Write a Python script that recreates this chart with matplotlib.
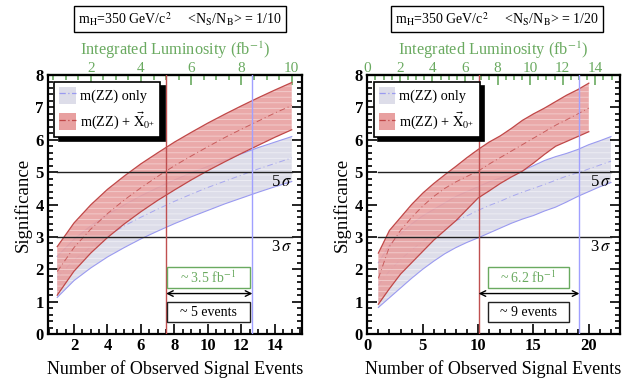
import numpy as np
import matplotlib
matplotlib.use("Agg")
import matplotlib.pyplot as plt
from matplotlib.patches import Patch, Rectangle
from matplotlib.lines import Line2D
from matplotlib.ticker import MultipleLocator

plt.rcParams['font.family'] = ['Liberation Serif', 'DejaVu Serif']
plt.rcParams['mathtext.fontset'] = 'stix'
plt.rcParams['hatch.linewidth'] = 0.6

# ---- <N_S/N_B> = 1/10 ----
n_a = [1, 2, 3, 4, 5, 6, 7, 8, 9, 10, 11, 12, 13, 14, 15]
zz_lo_a = [1.13, 1.65, 2.04, 2.38, 2.67, 2.94, 3.18, 3.41, 3.62, 3.82, 4.02, 4.20, 4.38, 4.55, 4.71]
zz_mid_a = [1.75, 2.28, 2.69, 3.03, 3.34, 3.61, 3.86, 4.10, 4.32, 4.53, 4.72, 4.91, 5.10, 5.27, 5.44]
zz_hi_a = [2.40, 2.93, 3.34, 3.69, 3.99, 4.27, 4.52, 4.76, 4.98, 5.18, 5.38, 5.57, 5.76, 5.93, 6.10]
x0_lo_a = [1.20, 1.94, 2.50, 2.98, 3.40, 3.78, 4.13, 4.45, 4.76, 5.05, 5.32, 5.58, 5.83, 6.08, 6.31]
x0_mid_a = [1.93, 2.67, 3.24, 3.72, 4.14, 4.52, 4.87, 5.20, 5.50, 5.79, 6.07, 6.33, 6.58, 6.83, 7.06]
x0_hi_a = [2.70, 3.43, 3.99, 4.47, 4.88, 5.26, 5.60, 5.93, 6.23, 6.52, 6.79, 7.05, 7.30, 7.54, 7.77]

# ---- <N_S/N_B> = 1/20 ----
n_b_zz = list(range(1, 23))
n_b_x0 = list(range(1, 21))
zz_lo_b = [0.82, 1.12, 1.42, 1.72, 2.00, 2.25, 2.48, 2.67, 2.83, 2.97, 3.12, 3.27, 3.42, 3.55,
           3.66, 3.80, 3.92, 4.08, 4.25, 4.40, 4.55, 4.68]
zz_mid_b = [1.50, 1.95, 2.30, 2.60, 2.85, 3.10, 3.30, 3.50, 3.65, 3.82, 3.97, 4.10, 4.25, 4.38,
            4.50, 4.62, 4.75, 4.88, 4.98, 5.10, 5.22, 5.34]
zz_hi_b = [2.20, 2.75, 3.10, 3.40, 3.65, 3.85, 4.05, 4.25, 4.40, 4.55, 4.70, 4.82, 4.93, 5.05,
           5.20, 5.36, 5.48, 5.58, 5.70, 5.85, 5.97, 6.10]
x0_lo_b = [0.92, 1.40, 1.85, 2.20, 2.55, 2.90, 3.20, 3.50, 3.85, 4.20, 4.42, 4.65, 4.85, 5.03,
           5.28, 5.55, 5.80, 5.95, 6.10, 6.25]
x0_mid_b = [1.72, 2.70, 3.20, 3.60, 3.95, 4.25, 4.50, 4.70, 4.87, 5.03, 5.25, 5.45, 5.65, 5.85,
            6.05, 6.25, 6.45, 6.62, 6.80, 6.98]
x0_hi_b = [2.50, 3.20, 3.60, 4.00, 4.35, 4.65, 4.92, 5.18, 5.45, 5.70, 5.93, 6.12, 6.35, 6.60,
           6.80, 6.98, 7.18, 7.38, 7.55, 7.75]

# events per fb^-1, discovery crossings, and annotation texts
events_per_fb = [1.5, 1.47]
n5_x0 = [7.5, 10.05]
n5_zz = [12.65, 19.15]
lumi_text = ['~ 3.5 fb$^{-1}$', '~ 6.2 fb$^{-1}$']
events_text = ['~ 5 events', '~ 9 events']
ratio_text = ['1/10', '1/20']

BLUE_FILL = '#dddde9'
BLUE_EDGE = '#9a9af0'
RED_FILL = '#e8a0a0'
RED_EDGE = '#c04848'
GREEN = '#6aaa60'

fig = plt.figure(figsize=(6.22, 3.78), dpi=100)
axes = [fig.add_axes([0.0772, 0.1164, 0.408, 0.685]),
        fig.add_axes([0.5905, 0.1164, 0.406, 0.685])]

panels = [
    (n_a, zz_lo_a, zz_mid_a, zz_hi_a, n_a, x0_lo_a, x0_mid_a, x0_hi_a),
    (n_b_zz, zz_lo_b, zz_mid_b, zz_hi_b, n_b_x0, x0_lo_b, x0_mid_b, x0_hi_b),
]
xlims = [(0.45, 15.6), (0.0, 22.8)]
xmajor = [2, 5]
lumi_ticks = [np.arange(2, 11, 2), np.arange(0, 15, 2)]
boxes_x = [(7.57, 12.48), (10.87, 18.23)]
title_x = [180 / 622, 497 / 622]

for i, ax in enumerate(axes):
    nz, zl, zm, zh, nx, xl, xm, xh = panels[i]

    # m(ZZ) only band
    ax.fill_between(nz, zl, zh, facecolor=BLUE_FILL, edgecolor='none', zorder=1)
    ax.fill_between(nz, zl, zh, facecolor='none', edgecolor=(1, 1, 1, 0.55),
                    linewidth=0, hatch='---', zorder=1.1)
    ax.plot(nz, zl, color=BLUE_EDGE, lw=0.8, zorder=1.2)
    ax.plot(nz, zh, color=BLUE_EDGE, lw=0.8, zorder=1.2)
    ax.plot(nz, zm, color=BLUE_EDGE, lw=0.7, ls=(0, (6, 3, 1, 3)), alpha=0.8, zorder=1.2)

    # m(ZZ) + X band
    ax.fill_between(nx, xl, xh, facecolor=RED_FILL, edgecolor='none', alpha=0.9, zorder=2)
    ax.fill_between(nx, xl, xh, facecolor='none', edgecolor=(1, 1, 1, 0.45),
                    linewidth=0, hatch='---', zorder=2.1)
    ax.plot(nx, xl, color=RED_EDGE, lw=0.9, zorder=2.2)
    ax.plot(nx, xh, color=RED_EDGE, lw=0.9, zorder=2.2)
    ax.plot(nx, xm, color=RED_EDGE, lw=0.7, ls=(0, (6, 3, 1, 3)), alpha=0.8, zorder=2.2)

    # 3 and 5 sigma reference lines
    x_first, x_last = nz[0], nz[-1]
    for s in (3, 5):
        ax.plot([x_first, x_last], [s, s], color='#222222', lw=1.0, zorder=3)
        ax.text(x_last, s - 0.07, f'{s}$\\,\\sigma$', ha='right', va='top',
                fontsize=12, zorder=4)

    # discovery crossings
    ax.axvline(n5_x0[i], color='#c05050', lw=1.0, zorder=3)
    ax.axvline(n5_zz[i], color='#a0a0ff', lw=1.0, zorder=3)

    # annotation boxes
    bx0, bx1 = boxes_x[i]
    ax.add_patch(Rectangle((bx0, 1.42), bx1 - bx0, 0.66, facecolor='white',
                           edgecolor=GREEN, lw=1.0, zorder=4))
    ax.text((bx0 + bx1) / 2, 1.75, lumi_text[i], ha='center', va='center',
            color=GREEN, fontsize=10, zorder=5)
    ax.add_patch(Rectangle((bx0, 0.36), bx1 - bx0, 0.63, facecolor='white',
                           edgecolor='#222222', lw=1.0, zorder=4))
    ax.text((bx0 + bx1) / 2, 0.675, events_text[i], ha='center', va='center',
            color='black', fontsize=10, zorder=5)
    ax.annotate('', xy=(n5_x0[i], 1.25), xytext=(n5_zz[i], 1.25),
                arrowprops=dict(arrowstyle='<->', color='black', lw=1.0,
                                shrinkA=0, shrinkB=0), zorder=5)

    ax.set_xlim(*xlims[i])
    ax.set_ylim(0, 8)
    ax.xaxis.set_major_locator(MultipleLocator(xmajor[i]))
    ax.xaxis.set_minor_locator(MultipleLocator(1 if i == 1 else 0.5))
    ax.yaxis.set_major_locator(MultipleLocator(1))
    ax.yaxis.set_minor_locator(MultipleLocator(0.2))
    ax.tick_params(which='both', direction='in', right=True, top=False, width=1.2)
    ax.tick_params(which='major', length=7)
    ax.tick_params(which='minor', length=3.5)
    for lab in ax.get_xticklabels() + ax.get_yticklabels():
        lab.set_fontweight('bold')
        lab.set_fontsize(12)
    ax.tick_params(axis='both', pad=3)
    for sp in ax.spines.values():
        sp.set_linewidth(1.6)
    ax.set_xlabel('Number of Observed Signal Events', fontsize=13, labelpad=4)
    ax.set_ylabel('Significance', fontsize=13.5, labelpad=3)

    # luminosity axis
    k = events_per_fb[i]
    sec = ax.secondary_xaxis('top', functions=(lambda n, k=k: n / k, lambda l, k=k: l * k))
    sec.set_xticks(lumi_ticks[i])
    sec.xaxis.set_minor_locator(MultipleLocator(0.5))
    sec.tick_params(which='both', direction='in', colors=GREEN, width=1.2,
                    labelsize=11, pad=0)
    sec.tick_params(which='major', length=7)
    sec.tick_params(which='minor', length=3.5)
    sec.spines['top'].set_linewidth(1.6)
    sec.spines['top'].set_color('#4f8a46')
    sec.set_xlabel('Integrated Luminosity (fb$^{-1}$)', color=GREEN, fontsize=11.8, labelpad=5)

    # legend
    handles = [
        (Patch(facecolor=BLUE_FILL, edgecolor='none'),
         Line2D([], [], color=BLUE_EDGE, lw=0.9, ls=(0, (5, 2, 1, 2)))),
        (Patch(facecolor=RED_FILL, edgecolor='none'),
         Line2D([], [], color=RED_EDGE, lw=0.9, ls=(0, (5, 2, 1, 2)))),
    ]
    leg = ax.legend(handles, ['m(ZZ) only', r'm(ZZ) + $\vec{\mathrm{X}}_{0^{+}}$'],
                    loc='upper left', bbox_to_anchor=(0.025, 0.975), fontsize=10.3,
                    frameon=True, fancybox=False,
                    shadow={'color': 'black', 'alpha': 1, 'ox': 3, 'oy': -3},
                    framealpha=1, edgecolor='black', handlelength=1.15, handleheight=1.5,
                    handletextpad=0.3, borderpad=0.35, labelspacing=0.45,
                    borderaxespad=0.0)
    leg.get_frame().set_linewidth(1.2)
    leg.set_zorder(10)

    # header box
    fig.text(title_x[i], 1 - 19 / 378,
             r'm$_{\mathrm{H}}$=350 GeV/c$^{2}$     <N$_{\mathrm{S}}$/N$_{\mathrm{B}}$> = ' + ratio_text[i],
             ha='center', va='center', fontsize=10,
             bbox=dict(boxstyle='square,pad=0.3', facecolor='white', edgecolor='black', lw=1.0))

fig.savefig('out.png', dpi=100)
